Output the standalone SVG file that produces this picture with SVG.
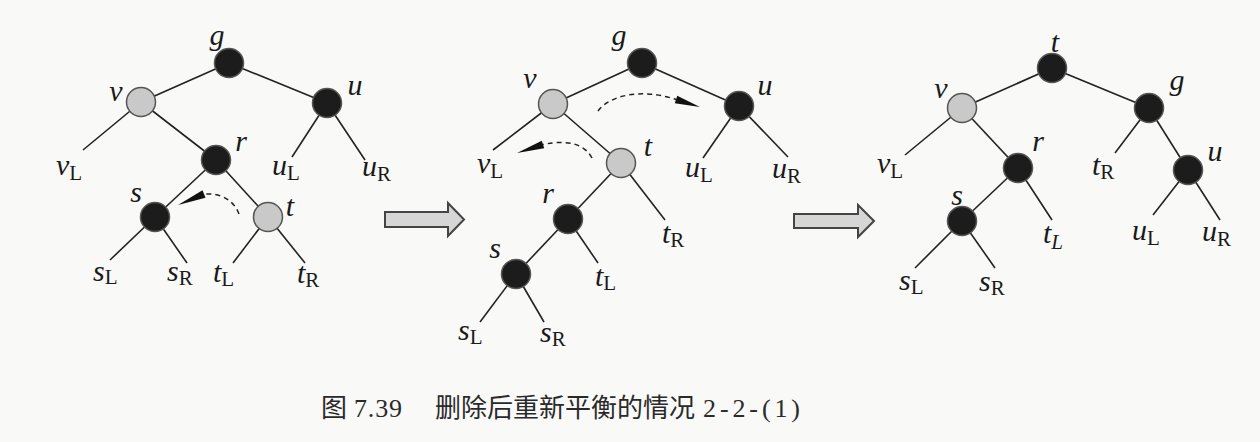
<svg xmlns="http://www.w3.org/2000/svg" width="1260" height="442" viewBox="0 0 1260 442">
<style>
.e{stroke:#222;stroke-width:1.6;fill:none}
.dk{fill:#1c1c1c;stroke:#555;stroke-width:1.5}
.lt{fill:#c9c9c9;stroke:#555;stroke-width:1.5}
.lb{font-family:"Liberation Serif",serif;font-style:italic;font-size:30px;fill:#1a1a1a}
.lb tspan.s{font-style:normal;font-size:21px}
.da{stroke:#222;stroke-width:1.5;fill:none;stroke-dasharray:5 4}
.ah{fill:#111}
.ba{fill:#d6d6d6;stroke:#444;stroke-width:2;stroke-linejoin:miter}
.cj{font-family:"Noto Sans CJK SC","Noto Sans",sans-serif;font-size:26px;fill:#2a2a2a}
.mo{font-family:"Liberation Serif",serif;font-size:26px;fill:#2a2a2a}
</style>
<rect width="1260" height="442" fill="#f9f9f8"/>

<g id="connectors">
  <!-- left tree -->
  <line class="e" x1="229" y1="63" x2="141" y2="102"/>
  <line class="e" x1="229" y1="63" x2="327" y2="103"/>
  <line class="e" x1="141" y1="102" x2="83" y2="150"/>
  <line class="e" x1="141" y1="102" x2="216" y2="160"/>
  <line class="e" x1="327" y1="103" x2="292" y2="157"/>
  <line class="e" x1="327" y1="103" x2="365" y2="160"/>
  <line class="e" x1="216" y1="160" x2="155" y2="217"/>
  <line class="e" x1="216" y1="160" x2="268" y2="217"/>
  <line class="e" x1="155" y1="217" x2="110" y2="260"/>
  <line class="e" x1="155" y1="217" x2="187" y2="263"/>
  <line class="e" x1="268" y1="217" x2="233" y2="263"/>
  <line class="e" x1="268" y1="217" x2="305" y2="263"/>
  <!-- middle tree -->
  <line class="e" x1="642" y1="63" x2="553" y2="104"/>
  <line class="e" x1="642" y1="63" x2="739" y2="106"/>
  <line class="e" x1="553" y1="104" x2="493" y2="150"/>
  <line class="e" x1="553" y1="104" x2="621" y2="163"/>
  <line class="e" x1="739" y1="106" x2="703" y2="158"/>
  <line class="e" x1="739" y1="106" x2="788" y2="157"/>
  <line class="e" x1="621" y1="163" x2="568" y2="219"/>
  <line class="e" x1="621" y1="163" x2="665" y2="220"/>
  <line class="e" x1="568" y1="219" x2="516" y2="274"/>
  <line class="e" x1="568" y1="219" x2="598" y2="263"/>
  <line class="e" x1="516" y1="274" x2="480" y2="322"/>
  <line class="e" x1="516" y1="274" x2="544" y2="322"/>
  <!-- right tree -->
  <line class="e" x1="1052" y1="68" x2="962" y2="108"/>
  <line class="e" x1="1052" y1="68" x2="1149" y2="108"/>
  <line class="e" x1="962" y1="108" x2="905" y2="155"/>
  <line class="e" x1="962" y1="108" x2="1018" y2="168"/>
  <line class="e" x1="1149" y1="108" x2="1115" y2="153"/>
  <line class="e" x1="1149" y1="108" x2="1188" y2="170"/>
  <line class="e" x1="1018" y1="168" x2="962" y2="221"/>
  <line class="e" x1="1018" y1="168" x2="1052" y2="220"/>
  <line class="e" x1="1188" y1="170" x2="1153" y2="215"/>
  <line class="e" x1="1188" y1="170" x2="1220" y2="220"/>
  <line class="e" x1="962" y1="221" x2="915" y2="268"/>
  <line class="e" x1="962" y1="221" x2="995" y2="268"/>
  <!-- dashed rotation arrows -->
  <path class="da" d="M239,214 C234,201 222,193 205,194"/>
  <polygon class="ah" points="178,205 202.5,190.3 205.5,197.7"/>
  <path class="da" d="M598,111 C610,95 642,88 676,99.5"/>
  <polygon class="ah" points="700,107 677.2,95.7 674.8,103.3"/>
  <path class="da" d="M592,158 C585,145 570,139 543,144.5"/>
  <polygon class="ah" points="517,153 541.8,140.7 544.2,148.3"/>
  <!-- block arrows -->
  <path class="ba" d="M385,212 H448 V203 L464,219.5 L448,236 V227 H385 Z"/>
  <path class="ba" d="M794,214 H858 V205 L874,221 L858,237 V228 H794 Z"/>
</g>

<!-- left tree nodes -->
<g id="L-g"><circle class="dk" cx="229" cy="63" r="14.5"/><text class="lb" x="217" y="45" text-anchor="middle">g</text></g>
<g id="L-v"><circle class="lt" cx="141" cy="102" r="14.5"/><text class="lb" x="116" y="101" text-anchor="middle">v</text></g>
<g id="L-u"><circle class="dk" cx="327" cy="103" r="14.5"/><text class="lb" x="355" y="95" text-anchor="middle">u</text></g>
<g id="L-r"><circle class="dk" cx="216" cy="160" r="14.5"/><text class="lb" x="241" y="151" text-anchor="middle">r</text></g>
<g id="L-s"><circle class="dk" cx="155" cy="217" r="14.5"/><text class="lb" x="136" y="202" text-anchor="middle">s</text></g>
<g id="L-t"><circle class="lt" cx="268" cy="217" r="14.5"/><text class="lb" x="290" y="216" text-anchor="middle">t</text></g>
<g id="L-vL"><text class="lb" x="56" y="175">v<tspan class="s" dy="5">L</tspan></text></g>
<g id="L-uL"><text class="lb" x="272" y="175">u<tspan class="s" dy="5">L</tspan></text></g>
<g id="L-uR"><text class="lb" x="362" y="176">u<tspan class="s" dy="5">R</tspan></text></g>
<g id="L-sL"><text class="lb" x="93" y="281">s<tspan class="s" dy="3">L</tspan></text></g>
<g id="L-sR"><text class="lb" x="167" y="281">s<tspan class="s" dy="4">R</tspan></text></g>
<g id="L-tL"><text class="lb" x="213" y="282">t<tspan class="s" dy="4">L</tspan></text></g>
<g id="L-tR"><text class="lb" x="297" y="283">t<tspan class="s" dy="4">R</tspan></text></g>

<!-- middle tree nodes -->
<g id="M-g"><circle class="dk" cx="642" cy="63" r="14.5"/><text class="lb" x="619" y="45" text-anchor="middle">g</text></g>
<g id="M-v"><circle class="lt" cx="553" cy="104" r="14.5"/><text class="lb" x="530" y="88" text-anchor="middle">v</text></g>
<g id="M-u"><circle class="dk" cx="739" cy="106" r="14.5"/><text class="lb" x="765" y="95" text-anchor="middle">u</text></g>
<g id="M-t"><circle class="lt" cx="621" cy="163" r="14.5"/><text class="lb" x="648" y="156" text-anchor="middle">t</text></g>
<g id="M-r"><circle class="dk" cx="568" cy="219" r="14.5"/><text class="lb" x="548" y="203" text-anchor="middle">r</text></g>
<g id="M-s"><circle class="dk" cx="516" cy="274" r="14.5"/><text class="lb" x="495" y="258" text-anchor="middle">s</text></g>
<g id="M-vL"><text class="lb" x="477" y="173">v<tspan class="s" dy="5">L</tspan></text></g>
<g id="M-uL"><text class="lb" x="685" y="177">u<tspan class="s" dy="5">L</tspan></text></g>
<g id="M-uR"><text class="lb" x="772" y="178">u<tspan class="s" dy="5">R</tspan></text></g>
<g id="M-tR"><text class="lb" x="662" y="243">t<tspan class="s" dy="4">R</tspan></text></g>
<g id="M-tL"><text class="lb" x="595" y="286">t<tspan class="s" dy="4">L</tspan></text></g>
<g id="M-sL"><text class="lb" x="458" y="340">s<tspan class="s" dy="4">L</tspan></text></g>
<g id="M-sR"><text class="lb" x="540" y="342">s<tspan class="s" dy="4">R</tspan></text></g>

<!-- right tree nodes -->
<g id="R-t"><circle class="dk" cx="1052" cy="68" r="14.5"/><text class="lb" x="1055" y="52" text-anchor="middle">t</text></g>
<g id="R-v"><circle class="lt" cx="962" cy="108" r="14.5"/><text class="lb" x="941" y="98" text-anchor="middle">v</text></g>
<g id="R-g"><circle class="dk" cx="1149" cy="108" r="14.5"/><text class="lb" x="1177" y="90" text-anchor="middle">g</text></g>
<g id="R-r"><circle class="dk" cx="1018" cy="168" r="14.5"/><text class="lb" x="1038" y="151" text-anchor="middle">r</text></g>
<g id="R-u"><circle class="dk" cx="1188" cy="170" r="14.5"/><text class="lb" x="1215" y="161" text-anchor="middle">u</text></g>
<g id="R-s"><circle class="dk" cx="962" cy="221" r="14.5"/><text class="lb" x="957" y="205" text-anchor="middle">s</text></g>
<g id="R-vL"><text class="lb" x="877" y="173">v<tspan class="s" dy="5">L</tspan></text></g>
<g id="R-tR"><text class="lb" x="1092" y="175">t<tspan class="s" dy="4">R</tspan></text></g>
<g id="R-tL"><text class="lb" x="1043" y="243">t<tspan class="s" dy="6" style="font-style:italic">L</tspan></text></g>
<g id="R-uL"><text class="lb" x="1132" y="240">u<tspan class="s" dy="5">L</tspan></text></g>
<g id="R-uR"><text class="lb" x="1202" y="241">u<tspan class="s" dy="5">R</tspan></text></g>
<g id="R-sL"><text class="lb" x="899" y="290">s<tspan class="s" dy="4">L</tspan></text></g>
<g id="R-sR"><text class="lb" x="979" y="291">s<tspan class="s" dy="4">R</tspan></text></g>

<!-- caption -->
<g id="caption">
  <text class="cj" x="321" y="417">图</text>
  <text class="mo" x="354" y="417" textLength="48" lengthAdjust="spacing">7.39</text>
  <text class="cj" x="435" y="417">删除后重新平衡的情况</text>
  <text class="mo" x="703" y="417" textLength="97" lengthAdjust="spacing">2-2-(1)</text>
</g>
</svg>
